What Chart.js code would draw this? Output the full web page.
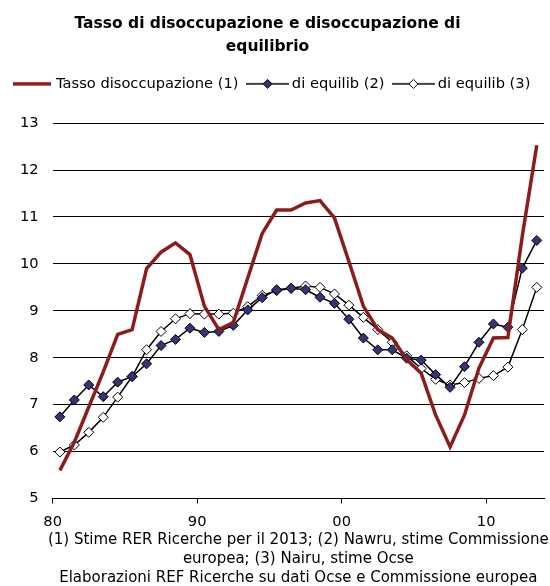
<!DOCTYPE html>
<html>
<head>
<meta charset="utf-8">
<script src="https://cdn.jsdelivr.net/npm/chart.js@4/dist/chart.umd.min.js"></script>
<style>
	html, body { margin: 0; padding: 0; background: #fff; }
	#box { width: 550px; height: 586px; position: relative; }
</style>
</head>
<body>
<div id="box"><canvas id="grafico"></canvas></div>
<script>
// anni 1980-2013
var anni = [1980, 1981, 1982, 1983, 1984, 1985, 1986, 1987, 1988, 1989,
	1990, 1991, 1992, 1993, 1994, 1995, 1996, 1997, 1998, 1999,
	2000, 2001, 2002, 2003, 2004, 2005, 2006, 2007, 2008, 2009,
	2010, 2011, 2012, 2013];

var tassoDisoccupazione = [5.6, 6.2, 6.95, 7.7, 8.5, 8.6, 9.9, 10.25, 10.45, 10.2,
	9.1, 8.6, 8.75, 9.7, 10.65, 11.15, 11.15, 11.3, 11.35, 10.98,
	10.05, 9.1, 8.6, 8.42, 7.96, 7.67, 6.78, 6.1, 6.78, 7.78,
	8.42, 8.43, 10.6, 12.53];

var nawru = [6.74, 7.1, 7.42, 7.17, 7.48, 7.6, 7.87, 8.26, 8.39, 8.63,
	8.54, 8.56, 8.69, 9.02, 9.28, 9.45, 9.48, 9.45, 9.29, 9.16,
	8.82, 8.42, 8.17, 8.17, 7.99, 7.95, 7.64, 7.37, 7.81, 8.33,
	8.72, 8.65, 9.91, 10.5];

var nairu = [5.99, 6.14, 6.41, 6.73, 7.16, 7.6, 8.17, 8.56, 8.83, 8.94,
	8.93, 8.93, 8.95, 9.09, 9.33, 9.43, 9.48, 9.53, 9.5, 9.36,
	9.12, 8.86, 8.6, 8.33, 8.04, 7.77, 7.54, 7.42, 7.47, 7.56,
	7.62, 7.8, 8.6, 9.5];

var nomiSerie = ["Tasso disoccupazione (1)", "di equilib (2)", "di equilib (3)"];
var anniEtichetta = [1980, 1990, 2000, 2010];
var titolo = ["Tasso di disoccupazione e disoccupazione di", "equilibrio"];
var note = ["(1) Stime RER Ricerche per il 2013; (2) Nawru, stime Commissione",
	"europea; (3) Nairu, stime Ocse",
	"Elaborazioni REF Ricerche su dati Ocse e Commissione europea"];

var ROSSO = '#8c1c1c';
var BLU = '#34347a';
var FONT = "'DejaVu Sans', Verdana, sans-serif";

function toPoints(values)
{
	var pts = [];
	for (var i = 0; i < anni.length; i++)
	{
		pts.push({x: anni[i], y: values[i]});
	}
	return pts;
}

// icone della legenda: linea con rombo al centro
function iconaLinea(larghezza, colore, spessore, riempimento)
{
	var c = document.createElement('canvas');
	c.width = larghezza;
	c.height = 14;
	var ctx = c.getContext('2d');
	var m = larghezza / 2;
	ctx.strokeStyle = colore;
	ctx.lineWidth = spessore;
	ctx.beginPath();
	ctx.moveTo(0, 7);
	ctx.lineTo(larghezza, 7);
	ctx.stroke();
	if (riempimento)
	{
		ctx.beginPath();
		ctx.moveTo(m, 2.5);
		ctx.lineTo(m + 4.5, 7);
		ctx.lineTo(m, 11.5);
		ctx.lineTo(m - 4.5, 7);
		ctx.closePath();
		ctx.fillStyle = riempimento;
		ctx.fill();
		ctx.lineWidth = 1;
		ctx.strokeStyle = '#000';
		ctx.stroke();
	}
	return c;
}

var icone = [iconaLinea(38, ROSSO, 3.5, null), iconaLinea(43, '#000', 1.5, BLU), iconaLinea(43, '#000', 1.5, '#fff')];

// piu' spazio tra legenda e grafico, titolo e note spostati come nell'originale
var ritocchi = {
	id: 'ritocchi',
	beforeInit: function(chart) {
		var fit = chart.legend.fit;
		chart.legend.fit = function() {
			fit.bind(chart.legend)();
			this.height += 22;
		};
	},
	afterLayout: function(chart) {
		if (chart.titleBlock)
		{
			chart.titleBlock.left -= 9;
			chart.titleBlock.right -= 9;
		}
		if (chart.legend)
		{
			chart.legend.left -= 4;
			chart.legend.right -= 4;
		}
		// le note sono centrate sotto l'area del grafico
		var centro = (chart.chartArea.left + chart.chartArea.right) / 2;
		chart.boxes.forEach(function(b) {
			if (b !== chart.titleBlock && b !== chart.legend && b.position === 'bottom' && typeof b._drawArgs === 'function')
			{
				var mezzo = (b.right - b.left) / 2;
				b.left = centro - mezzo;
				b.right = centro + mezzo;
			}
		});
	}
};

var grafico = new Chart(document.getElementById('grafico'), {
	type: 'line',
	data: {
		datasets: [{
			label: nomiSerie[0],
			data: toPoints(tassoDisoccupazione),
			borderColor: ROSSO,
			backgroundColor: ROSSO,
			borderWidth: 3.5,
			pointRadius: 0,
			tension: 0
		}, {
			label: nomiSerie[1],
			data: toPoints(nawru),
			borderColor: '#000',
			backgroundColor: BLU,
			borderWidth: 1.5,
			pointStyle: 'rectRot',
			pointRadius: 5,
			pointBorderWidth: 1,
			pointBorderColor: '#000',
			pointBackgroundColor: BLU,
			tension: 0
		}, {
			label: nomiSerie[2],
			data: toPoints(nairu),
			borderColor: '#000',
			backgroundColor: '#fff',
			borderWidth: 1.5,
			pointStyle: 'rectRot',
			pointRadius: 5,
			pointBorderWidth: 1,
			pointBorderColor: '#000',
			pointBackgroundColor: '#fff',
			tension: 0
		}]
	},
	options: {
		responsive: true,
		maintainAspectRatio: false,
		animation: false,
		events: [],
		layout: {
			padding: {left: 0, right: -3, top: 0, bottom: 0}
		},
		plugins: {
			tooltip: {enabled: false},
			title: {
				display: true,
				text: titolo,
				color: '#000',
				font: {family: FONT, size: 15.5, weight: 'bold', lineHeight: 1.5},
				padding: {top: 12, bottom: 6}
			},
			subtitle: {
				display: true,
				position: 'bottom',
				text: note,
				color: '#000',
				font: {family: FONT, size: 15, lineHeight: 1.287},
				padding: {top: -11, bottom: -2}
			},
			legend: {
				display: true,
				labels: {
					color: '#000',
					font: {family: FONT, size: 14.67},
					usePointStyle: true,
					pointStyleWidth: 34,
					padding: 12,
					generateLabels: function(chart) {
						var items = Chart.defaults.plugins.legend.labels.generateLabels(chart);
						for (var i = 0; i < items.length; i++)
						{
							items[i].pointStyle = icone[i];
						}
						return items;
					}
				}
			}
		},
		scales: {
			x: {
				type: 'linear',
				min: anni[0] - 0.5,
				max: anni[anni.length - 1] + 0.5,
				afterBuildTicks: function(scale) {
					scale.ticks = anniEtichetta.map(function(a) { return {value: a - 0.5}; });
				},
				ticks: {
					color: '#000',
					font: {family: FONT, size: 14.67},
					padding: 10,
					maxRotation: 0,
					autoSkip: false,
					callback: function(v) {
						return String(Math.round(v + 0.5)).slice(2);
					}
				},
				grid: {
					drawOnChartArea: false,
					drawTicks: true,
					tickLength: 5,
					color: '#000'
				},
				border: {display: true, color: '#000', width: 1}
			},
			y: {
				min: 5,
				max: 13,
				afterFit: function(scale) {
					scale.width += 6;
				},
				ticks: {
					stepSize: 1,
					color: '#000',
					font: {family: FONT, size: 14.67},
					padding: 14
				},
				grid: {
					color: '#000',
					lineWidth: 1,
					drawTicks: false
				},
				border: {display: false}
			}
		}
	},
	plugins: [ritocchi]
});
</script>
</body>
</html>
